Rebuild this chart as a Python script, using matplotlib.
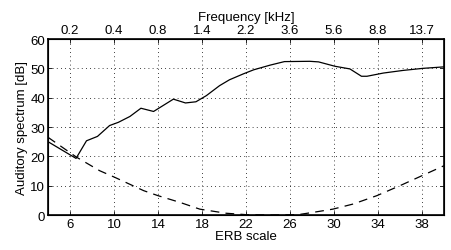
import numpy as np
import matplotlib.pyplot as plt

plt.rcParams['font.family'] = ['Liberation Sans', 'DejaVu Sans']
plt.rcParams['font.size'] = 9.5

# auditory spectrum (solid)
erb_spec = [4.0, 6.55, 7.5, 8.5, 9.6, 10.4, 11.45, 12.45, 13.6, 15.4, 16.5, 17.45,
            18.4, 19.6, 20.5, 21.75, 22.7, 24.2, 25.5, 27.8, 28.6, 30.1, 31.45,
            32.5, 33.0, 34.5, 36.3, 38.1, 40.0]
spec_db = [25.0, 19.3, 25.3, 26.8, 30.5, 31.6, 33.6, 36.4, 35.3, 39.5, 38.2, 38.6,
           40.7, 44.1, 46.1, 48.1, 49.5, 51.1, 52.3, 52.4, 52.2, 50.7, 49.8,
           47.3, 47.3, 48.4, 49.3, 50.0, 50.5]

# threshold curve (dashed)
erb_thr = [4.0, 6.6, 8.7, 10.1, 12.7, 14.0, 16.0, 17.8, 20.2, 22.1, 24.4, 26.7,
           28.1, 29.9, 31.75, 33.9, 36.0, 38.0, 40.0]
thr_db = [26.5, 19.7, 15.1, 12.8, 8.3, 6.6, 4.3, 2.0, 0.6, 0.1, 0.0, 0.1,
          0.9, 2.0, 3.75, 6.6, 10.0, 13.4, 16.8]

erb_ticks = [6, 10, 14, 18, 22, 26, 30, 34, 38]
freq_labels = ['0.2', '0.4', '0.8', '1.4', '2.2', '3.6', '5.6', '8.8', '13.7']

fig = plt.figure(figsize=(4.51, 2.51), dpi=100)
ax = fig.add_axes([0.1064, 0.1394, 0.878, 0.7012])

ax.plot(erb_spec, spec_db, color='k', lw=0.9)
ax.plot(erb_thr, thr_db, color='k', lw=0.9, ls=(0, (7, 5)))

ax.set_xlim(4, 40)
ax.set_ylim(0, 60)
ax.set_xticks(erb_ticks)
ax.set_yticks(range(0, 61, 10))
ax.grid(True, color='k', ls=(0, (1, 4)), lw=0.6)
ax.tick_params(direction='in', length=3, width=0.6, pad=2, top=False, right=True)
for s in ax.spines.values():
    s.set_linewidth(1.2)
ax.set_xlabel('ERB scale', labelpad=0)
ax.set_ylabel('Auditory spectrum [dB]', labelpad=2)

top = ax.twiny()
top.set_xlim(ax.get_xlim())
top.set_xticks(erb_ticks)
top.set_xticklabels(freq_labels)
top.tick_params(direction='in', length=3, width=0.6, pad=2)
top.set_xlabel('Frequency [kHz]', labelpad=3)

fig.savefig('out.png', dpi=100)
